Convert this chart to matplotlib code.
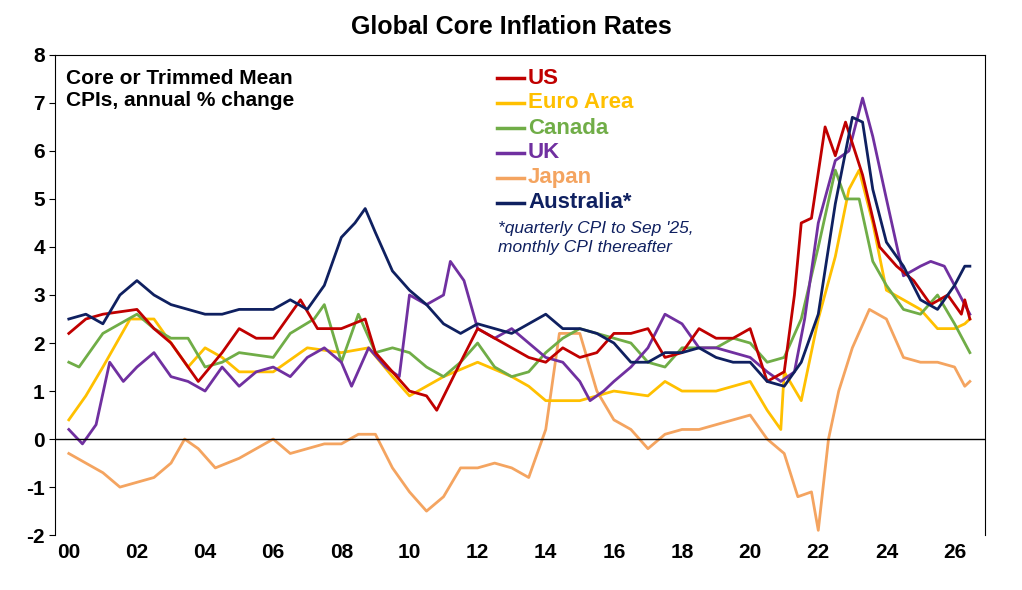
import matplotlib.pyplot as plt

plt.rcParams['font.family'] = ['Liberation Sans', 'DejaVu Sans']
plt.rcParams['axes.unicode_minus'] = False

us_x = [2000, 2000.5, 2001, 2002, 2002.5, 2003, 2003.8, 2004.5, 2005, 2005.5, 2006, 2006.8, 2007.3, 2008, 2008.7, 2009, 2010, 2010.5, 2010.8, 2011.5, 2012, 2012.5, 2013, 2013.5, 2014, 2014.5, 2015, 2015.5, 2016, 2016.5, 2017, 2017.5, 2018, 2018.5, 2019, 2019.5, 2020, 2020.5, 2021, 2021.3, 2021.5, 2021.8, 2022.2, 2022.5, 2022.8, 2023.3, 2023.8, 2024.3, 2024.8, 2025.3, 2025.8, 2026.2, 2026.3, 2026.45]
us_y = [2.2, 2.5, 2.6, 2.7, 2.3, 2.0, 1.2, 1.8, 2.3, 2.1, 2.1, 2.9, 2.3, 2.3, 2.5, 1.8, 1.0, 0.9, 0.6, 1.6, 2.3, 2.1, 1.9, 1.7, 1.6, 1.9, 1.7, 1.8, 2.2, 2.2, 2.3, 1.7, 1.8, 2.3, 2.1, 2.1, 2.3, 1.2, 1.4, 3.0, 4.5, 4.6, 6.5, 5.9, 6.6, 5.5, 4.0, 3.6, 3.3, 2.8, 3.0, 2.6, 2.9, 2.5]

ea_x = [2000, 2000.5, 2001, 2001.8, 2002.5, 2003, 2003.5, 2004, 2004.5, 2005, 2006, 2007, 2008, 2008.8, 2009.5, 2010, 2011, 2012, 2013, 2013.5, 2014, 2015, 2015.5, 2016, 2017, 2017.5, 2018, 2019, 2019.5, 2020, 2020.5, 2020.9, 2021, 2021.5, 2022, 2022.5, 2022.9, 2023.2, 2023.6, 2024, 2024.5, 2025, 2025.5, 2026, 2026.3, 2026.45]
ea_y = [0.4, 0.9, 1.5, 2.5, 2.5, 2.0, 1.5, 1.9, 1.7, 1.4, 1.4, 1.9, 1.8, 1.9, 1.3, 0.9, 1.3, 1.6, 1.3, 1.1, 0.8, 0.8, 0.9, 1.0, 0.9, 1.2, 1.0, 1.0, 1.1, 1.2, 0.6, 0.2, 1.4, 0.8, 2.5, 3.8, 5.2, 5.6, 4.5, 3.1, 2.9, 2.7, 2.3, 2.3, 2.4, 2.5]

ca_x = [2000, 2000.3, 2001, 2001.5, 2002, 2002.5, 2003, 2003.5, 2004, 2004.5, 2005, 2006, 2006.5, 2007.2, 2007.5, 2008, 2008.5, 2009, 2009.5, 2010, 2010.5, 2011, 2011.5, 2012, 2012.5, 2013, 2013.5, 2014, 2014.5, 2015, 2015.5, 2016, 2016.5, 2017, 2017.5, 2018, 2018.5, 2019, 2019.5, 2020, 2020.5, 2021, 2021.5, 2022, 2022.5, 2022.8, 2023.2, 2023.6, 2024, 2024.5, 2025, 2025.5, 2026, 2026.45]
ca_y = [1.6, 1.5, 2.2, 2.4, 2.6, 2.3, 2.1, 2.1, 1.5, 1.6, 1.8, 1.7, 2.2, 2.5, 2.8, 1.6, 2.6, 1.8, 1.9, 1.8, 1.5, 1.3, 1.6, 2.0, 1.5, 1.3, 1.4, 1.8, 2.1, 2.3, 2.2, 2.1, 2.0, 1.6, 1.5, 1.9, 1.9, 1.9, 2.1, 2.0, 1.6, 1.7, 2.5, 4.0, 5.6, 5.0, 5.0, 3.7, 3.2, 2.7, 2.6, 3.0, 2.4, 1.8]

uk_x = [2000, 2000.4, 2000.8, 2001.2, 2001.6, 2002, 2002.5, 2003, 2003.5, 2004, 2004.5, 2005, 2005.5, 2006, 2006.5, 2007, 2007.5, 2008, 2008.3, 2008.8, 2009.3, 2009.7, 2010, 2010.5, 2011, 2011.2, 2011.6, 2012, 2012.5, 2013, 2013.5, 2014, 2014.5, 2015, 2015.3, 2015.7, 2016, 2016.5, 2017, 2017.5, 2018, 2018.5, 2019, 2019.5, 2020, 2020.5, 2020.9, 2021.3, 2021.6, 2022, 2022.5, 2022.9, 2023.3, 2023.6, 2024, 2024.5, 2025, 2025.3, 2025.7, 2026, 2026.45]
uk_y = [0.2, -0.1, 0.3, 1.6, 1.2, 1.5, 1.8, 1.3, 1.2, 1.0, 1.5, 1.1, 1.4, 1.5, 1.3, 1.7, 1.9, 1.6, 1.1, 1.9, 1.5, 1.3, 3.0, 2.8, 3.0, 3.7, 3.3, 2.3, 2.1, 2.3, 2.0, 1.7, 1.6, 1.2, 0.8, 1.0, 1.2, 1.5, 1.9, 2.6, 2.4, 1.9, 1.9, 1.8, 1.7, 1.4, 1.2, 1.4, 2.5, 4.5, 5.8, 6.0, 7.1, 6.3, 5.0, 3.4, 3.6, 3.7, 3.6, 3.2, 2.6]

jp_x = [2000, 2000.5, 2001, 2001.5, 2002, 2002.5, 2003, 2003.4, 2003.8, 2004.3, 2005, 2005.5, 2006, 2006.5, 2007, 2007.5, 2008, 2008.5, 2009, 2009.5, 2010, 2010.5, 2011, 2011.5, 2012, 2012.5, 2013, 2013.5, 2014, 2014.4, 2015, 2015.5, 2016, 2016.5, 2017, 2017.5, 2018, 2018.5, 2019, 2019.5, 2020, 2020.5, 2021, 2021.4, 2021.8, 2022, 2022.3, 2022.6, 2023, 2023.5, 2024, 2024.5, 2025, 2025.5, 2026, 2026.3, 2026.45]
jp_y = [-0.3, -0.5, -0.7, -1.0, -0.9, -0.8, -0.5, 0.0, -0.2, -0.6, -0.4, -0.2, 0.0, -0.3, -0.2, -0.1, -0.1, 0.1, 0.1, -0.6, -1.1, -1.5, -1.2, -0.6, -0.6, -0.5, -0.6, -0.8, 0.2, 2.2, 2.2, 1.0, 0.4, 0.2, -0.2, 0.1, 0.2, 0.2, 0.3, 0.4, 0.5, 0.0, -0.3, -1.2, -1.1, -1.9, 0.0, 1.0, 1.9, 2.7, 2.5, 1.7, 1.6, 1.6, 1.5, 1.1, 1.2]

au_x = [2000, 2000.5, 2001, 2001.5, 2002, 2002.5, 2003, 2003.5, 2004, 2004.5, 2005, 2005.5, 2006, 2006.5, 2007, 2007.5, 2008, 2008.4, 2008.7, 2009, 2009.5, 2010, 2010.5, 2011, 2011.5, 2012, 2012.5, 2013, 2013.5, 2014, 2014.5, 2015, 2015.5, 2016, 2016.5, 2017, 2017.5, 2018, 2018.5, 2019, 2019.5, 2020, 2020.5, 2021, 2021.5, 2022, 2022.5, 2023, 2023.3, 2023.6, 2024, 2024.5, 2025, 2025.5, 2025.8, 2026, 2026.3, 2026.45]
au_y = [2.5, 2.6, 2.4, 3.0, 3.3, 3.0, 2.8, 2.7, 2.6, 2.6, 2.7, 2.7, 2.7, 2.9, 2.7, 3.2, 4.2, 4.5, 4.8, 4.3, 3.5, 3.1, 2.8, 2.4, 2.2, 2.4, 2.3, 2.2, 2.4, 2.6, 2.3, 2.3, 2.2, 2.0, 1.6, 1.6, 1.8, 1.8, 1.9, 1.7, 1.6, 1.6, 1.2, 1.1, 1.6, 2.6, 4.9, 6.7, 6.6, 5.2, 4.1, 3.6, 2.9, 2.7, 3.0, 3.2, 3.6, 3.6]

names = ['US', 'Euro Area', 'Canada', 'UK', 'Japan', 'Australia*']
colors = ['#c00000', '#ffc000', '#70ad47', '#7030a0', '#f4a460', '#0f2060']
xs = [us_x, ea_x, ca_x, uk_x, jp_x, au_x]
ys = [us_y, ea_y, ca_y, uk_y, jp_y, au_y]

fig = plt.figure(figsize=(10.22, 5.9), dpi=100)
ax = fig.add_axes([0.054, 0.093, 0.91, 0.814])

# draw Japan first so it sits under the others, Australia on top
for i in [4, 1, 2, 3, 0, 5]:
    ax.plot(xs[i], ys[i], color=colors[i], lw=2)

ax.set_xlim(1999.6, 2026.9)
ax.set_ylim(-2, 8)
ax.set_xticks(range(2000, 2027, 2))
ax.set_xticklabels(['%02d' % (y % 100) for y in range(2000, 2027, 2)])
ax.set_yticks(range(-2, 9))
ax.tick_params(labelsize=15, length=4)
for lbl in ax.get_xticklabels() + ax.get_yticklabels():
    lbl.set_fontweight('bold')
ax.axhline(0, color='black', lw=1)
ax.spines['bottom'].set_visible(False)
ax.tick_params(axis='x', length=0, pad=6)

fig.text(0.5, 0.955, 'Global Core Inflation Rates', ha='center', va='center',
         fontsize=18, fontweight='bold')
ax.text(0.012, 0.97, 'Core or Trimmed Mean\nCPIs, annual % change', transform=ax.transAxes,
        ha='left', va='top', fontsize=15, fontweight='bold', linespacing=1.2)

for k, (n, c) in enumerate(zip(names, colors)):
    yy = 1 - (78 + k * 25) / 590
    fig.add_artist(plt.Line2D([497 / 1022, 524 / 1022], [yy, yy], color=c, lw=2.5))
    fig.text(528 / 1022, yy, n, color=c, fontsize=16, fontweight='bold', va='center')
fig.text(498 / 1022, 1 - 238 / 590, "*quarterly CPI to Sep '25,\nmonthly CPI thereafter",
         color='#0f2060', fontsize=12.5, style='italic', va='center', linespacing=1.3)

fig.savefig('out.png', dpi=100)
